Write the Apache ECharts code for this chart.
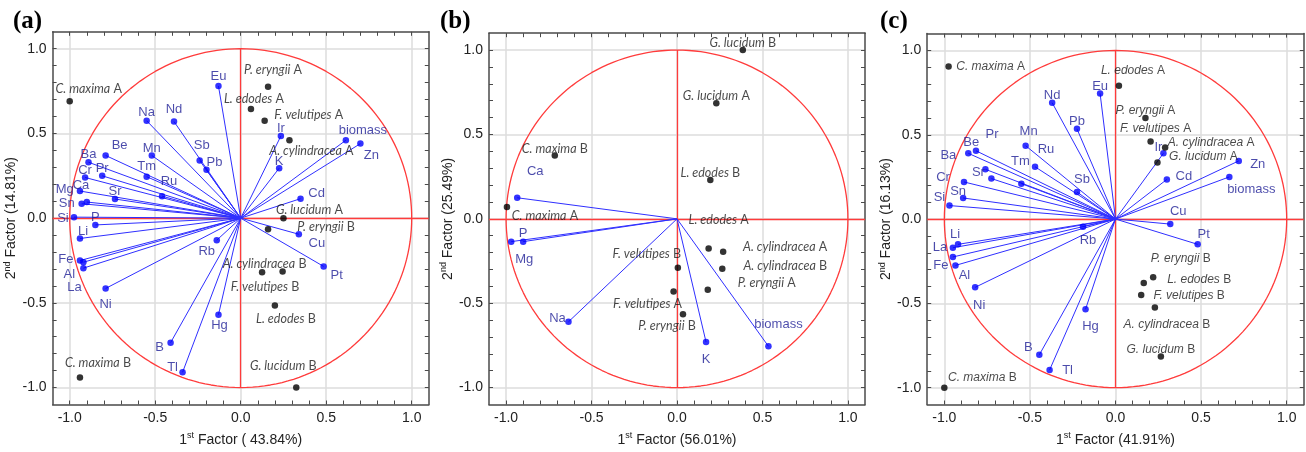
<!DOCTYPE html>
<html>
<head>
<meta charset="utf-8">
<script src="https://cdn.jsdelivr.net/npm/echarts@6/dist/echarts.min.js"></script>
<style>
  html, body { margin: 0; background: #fff; }
  #chart { width: 1306px; height: 452px; }
</style>
</head>
<body>
<div id="chart"></div>
<script>
// ---- data ----
// (a)
const aVarNames = ['Eu','Na','Nd','Be','Mn','Ba','Sb','Pb','Tm','Cr','Pr','Ru','Ca','Mg','Sn','Sr','Si','P','Li','Fe','Al','La','Ni','B','Tl','Rb','Hg','Ir','K','biomass','Zn','Cd','Cu','Pt']
const aVarX = [-0.13,-0.55,-0.39,-0.79,-0.52,-0.89,-0.24,-0.20,-0.55,-0.91,-0.81,-0.46,-0.94,-0.90,-0.93,-0.735,-0.975,-0.85,-0.94,-0.94,-0.92,-0.92,-0.79,-0.41,-0.34,-0.14,-0.13,0.235,0.225,0.615,0.70,0.35,0.34,0.485]
const aVarY = [0.78,0.575,0.57,0.37,0.37,0.33,0.34,0.285,0.245,0.24,0.25,0.13,0.16,0.095,0.085,0.113,0.006,-0.04,-0.12,-0.25,-0.26,-0.295,-0.415,-0.735,-0.91,-0.13,-0.57,0.485,0.295,0.46,0.44,0.115,-0.095,-0.285]
const aObjNames = ['C. maxima A','P. eryngii A','L. edodes A','F. velutipes A','A. cylindracea A','G. lucidum A','P. eryngii B','A. cylindracea B','F. velutipes B','L. edodes B','G. lucidum B','C. maxima B']
const aObjX = [-1.0,0.16,0.06,0.14,0.285,0.25,0.16,0.245,0.125,0.20,0.325,-0.94]
const aObjY = [0.69,0.775,0.645,0.575,0.46,0.0,-0.065,-0.315,-0.32,-0.515,-1.0,-0.94]

// (b)
const bVarNames = ['Ca','P','Mg','Na','K','biomass']
const bVarX = [-0.935,-0.90,-0.97,-0.635,0.17,0.535]
const bVarY = [0.125,-0.135,-0.135,-0.61,-0.73,-0.755]
const bObjNames = ['C. maxima B','C. maxima A','G. lucidum B','G. lucidum A','L. edodes B','L. edodes A','A. cylindracea A','A. cylindracea B','P. eryngii A','F. velutipes B','F. velutipes A','P. eryngii B']
const bObjX = [-0.715,-0.995,0.385,0.23,0.195,0.185,0.27,0.265,0.18,0.005,-0.02,0.035]
const bObjY = [0.375,0.07,1.0,0.685,0.23,-0.175,-0.195,-0.295,-0.42,-0.29,-0.43,-0.565]

// (c)
const cVarNames = ['Nd','Eu','Pb','Mn','Be','Pr','Ba','Sr','Ru','Tm','Sb','Cr','Sn','Si','Ir','Zn','biomass','Cd','Cu','Pt','Li','La','Fe','Al','Ni','Rb','Hg','B','Tl']
const cVarX = [-0.37,-0.09,-0.225,-0.525,-0.86,-0.815,-0.76,-0.725,-0.47,-0.55,-0.225,-0.885,-0.89,-0.97,0.28,0.72,0.665,0.30,0.32,0.48,-0.92,-0.95,-0.95,-0.935,-0.82,-0.19,-0.175,-0.445,-0.385]
const cVarY = [0.69,0.745,0.535,0.435,0.39,0.405,0.295,0.24,0.31,0.21,0.16,0.22,0.125,0.08,0.39,0.345,0.25,0.235,-0.03,-0.15,-0.15,-0.17,-0.225,-0.275,-0.405,-0.045,-0.535,-0.805,-0.895]
const cObjNames = ['C. maxima A','L. edodes A','P. eryngii A','F. velutipes A','A. cylindracea A','G. lucidum A','P. eryngii B','L. edodes B','F. velutipes B','A. cylindracea B','G. lucidum B','C. maxima B']
const cObjX = [-0.975,0.02,0.175,0.205,0.29,0.245,0.165,0.22,0.15,0.23,0.265,-1.0]
const cObjY = [0.905,0.79,0.60,0.46,0.425,0.335,-0.38,-0.345,-0.45,-0.525,-0.815,-1.0]

const tickValues = [-1.0, -0.5, 0.0, 0.5, 1.0]
const minorValues = [-1.0,-0.9,-0.8,-0.7,-0.6,-0.5,-0.4,-0.3,-0.2,-0.1,0,0.1,0.2,0.3,0.4,0.5,0.6,0.7,0.8,0.9,1.0]

// label placement (label centre relative to point, px)
const aVarLab = {Eu:[0,-10],Na:[0,-8],Nd:[0,-12],Be:[14,-10],Mn:[0,-7],Ba:[0,-8],Sb:[2,-15],Pb:[8,-7],Tm:[0,-10],Cr:[0,-7],Pr:[0,-7],Ru:[7,-15],Ca:[1,-6],Mg:[-22,-13],Sn:[-15,0],Sr:[0,-8],Si:[-11,1],P:[0,-8],Li:[3,-7],Fe:[-14,-1],Al:[-14,12],La:[-9,19],Ni:[0,16],B:[-11,5],Tl:[-10,-5],Rb:[-10,11],Hg:[1,11],Ir:[0,-8],K:[0,-7],biomass:[17,-10],Zn:[11,12],Cd:[16,-5],Cu:[18,9],Pt:[13,9]}
const aObjLab = [[19,-12],[5,-17],[3,-10],[44,-6],[22,11],[26,-8],[58,-2],[-18,-8],[3,15],[11,14],[-13,-22],[18,-14]]
const bVarLab = {Ca:[18,-26],P:[0,-8],Mg:[13,18],Na:[-11,-3],K:[0,17],biomass:[10,-22]}
const bObjLab = [[0,-7],[38,9],[0,-7],[0,-7],[0,-7],[10,-28],[62,-5],[63,-3],[59,-7],[-31,-14],[-26,13],[-16,12]]
const cVarLab = {Nd:[0,-7],Eu:[0,-7],Pb:[0,-7],Mn:[3,-14],Be:[3,-11],Pr:[16,-16],Ba:[-37,-14],Sr:[-13,-6],Ru:[11,-17],Tm:[-1,-22],Sb:[5,-13],Cr:[-21,-5],Sn:[-5,-7],Si:[-10,-8],Ir:[-5,-6],Zn:[19,4],biomass:[22,13],Cd:[17,-3],Cu:[8,-13],Pt:[6,-10],Li:[-3,-10],La:[-13,0],Fe:[-12,8],Al:[9,10],Ni:[4,18],Rb:[5,14],Hg:[5,17],B:[-11,-7],Tl:[18,0]}
const cObjLab = [[42,0],[14,-15],[0,-7],[5,-13],[46,-5],[46,-6],[37,-24],[46,2],[48,1],[12,17],[0,-7],[38,-10]]

const SANS = '"Liberation Sans", Arial, sans-serif'
const RED = '#ff3b3b'
const BLUE = '#0000ff'

const panels = [
  { grid: {left: 52.6, top: 31.8, width: 376.2, height: 376.2}, xName: ' 43.84%', yName: '14.81%',
    vn: aVarNames, vx: aVarX, vy: aVarY, vl: aVarLab, on: aObjNames, ox: aObjX, oy: aObjY, ol: aObjLab, objFont: 'Lato', objSize: 12.5, tag: '(a)', tagX: 13 },
  { grid: {left: 489, top: 33.2, width: 376, height: 376}, xName: '56.01%', yName: '25.49%',
    vn: bVarNames, vx: bVarX, vy: bVarY, vl: bVarLab, on: bObjNames, ox: bObjX, oy: bObjY, ol: bObjLab, objFont: 'Lato', objSize: 12.5, tag: '(b)', tagX: 440 },
  { grid: {left: 927.2, top: 33.6, width: 376.6, height: 376.6}, xName: '41.91%', yName: '16.13%',
    vn: cVarNames, vx: cVarX, vy: cVarY, vl: cVarLab, on: cObjNames, ox: cObjX, oy: cObjY, ol: cObjLab, objFont: SANS, objSize: 12, tag: '(c)', tagX: 880 }
]

// unit circle (reference shape, not data)
const circle = []
for (let k = 0; k <= 360; k += 2) {
  const t = k * Math.PI / 180
  circle.push([Math.cos(t), Math.sin(t)])
}

const nameRich = {
  n: { fontSize: 14, color: '#222', fontFamily: SANS },
  s: { fontSize: 9, color: '#222', fontFamily: SANS, padding: [0, 0, 8, 0] }
}

const xAxes = [], yAxes = [], series = [], graphics = []
panels.forEach((p, i) => {
  const frame = { show: true, onZero: false, lineStyle: { color: '#4a4a4a', width: 1.5 } }
  const noLine = { show: false, onZero: false }
  const minorTick = { show: true, inside: true, length: 4, customValues: minorValues, lineStyle: { color: '#4a4a4a', width: 1 } }
  // main axes: labels + grid lines
  xAxes.push({
    gridIndex: i, type: 'value', min: -1.1, max: 1.1, position: 'bottom',
    axisLine: frame, axisTick: { show: false, customValues: tickValues },
    axisLabel: { customValues: tickValues, formatter: v => v.toFixed(1), fontSize: 14, color: '#222', fontFamily: SANS, margin: 7 },
    splitLine: { show: true, lineStyle: { color: '#dddddd', width: 1.5 } },
    name: '{n|1}{s|st}{n| Factor (' + p.xName + ')}', nameLocation: 'middle', nameGap: 27,
    nameTextStyle: { rich: nameRich }
  })
  xAxes.push({ gridIndex: i, type: 'value', min: -1.1, max: 1.1, position: 'bottom', axisLine: noLine,
    axisTick: minorTick, axisLabel: { show: false }, splitLine: { show: false } })
  xAxes.push({ gridIndex: i, type: 'value', min: -1.1, max: 1.1, position: 'top', axisLine: frame,
    axisTick: minorTick, axisLabel: { show: false }, splitLine: { show: false } })
  yAxes.push({
    gridIndex: i, type: 'value', min: -1.1, max: 1.1, position: 'left',
    axisLine: frame, axisTick: { show: false, customValues: tickValues },
    axisLabel: { customValues: tickValues, formatter: v => v.toFixed(1), fontSize: 14, color: '#222', fontFamily: SANS, margin: 6 },
    splitLine: { show: true, lineStyle: { color: '#dddddd', width: 1.5 } },
    name: '{n|2}{s|nd}{n| Factor (' + p.yName + ')}', nameLocation: 'middle', nameGap: 31,
    nameTextStyle: { rich: nameRich }
  })
  yAxes.push({ gridIndex: i, type: 'value', min: -1.1, max: 1.1, position: 'left', axisLine: noLine,
    axisTick: minorTick, axisLabel: { show: false }, splitLine: { show: false } })
  yAxes.push({ gridIndex: i, type: 'value', min: -1.1, max: 1.1, position: 'right', axisLine: frame,
    axisTick: minorTick, axisLabel: { show: false }, splitLine: { show: false } })

  const xi = i * 3, yi = i * 3
  series.push({
    type: 'line', xAxisIndex: xi, yAxisIndex: yi, data: circle, showSymbol: false, silent: true,
    lineStyle: { color: RED, width: 1.3 }, z: 1
  })
  series.push({
    type: 'lines', coordinateSystem: 'cartesian2d', xAxisIndex: xi, yAxisIndex: yi, silent: true, z: 1,
    lineStyle: { color: RED, width: 1.3, opacity: 1 },
    data: [{ coords: [[-1.1, 0], [1.1, 0]] }, { coords: [[0, -1], [0, 1]] }]
  })
  series.push({
    type: 'lines', coordinateSystem: 'cartesian2d', xAxisIndex: xi, yAxisIndex: yi, silent: true, z: 2,
    lineStyle: { color: '#2f2fff', width: 1, opacity: 1 },
    data: p.vn.map((n, k) => ({ coords: [[0, 0], [p.vx[k], p.vy[k]]] }))
  })
  series.push({
    type: 'scatter', xAxisIndex: xi, yAxisIndex: yi, symbolSize: 6.5, z: 3,
    itemStyle: { color: BLUE },
    data: p.vn.map((n, k) => ({
      name: n, value: [p.vx[k], p.vy[k]],
      label: { offset: p.vl[n] || [0, -8] }
    })),
    label: {
      show: true, position: 'inside', formatter: '{b}', align: 'center', verticalAlign: 'middle',
      fontSize: 13, color: '#1e1e96', fontFamily: SANS
    }
  })
  series.push({
    type: 'scatter', xAxisIndex: xi, yAxisIndex: yi, symbolSize: 6.5, z: 4,
    itemStyle: { color: '#000' },
    data: p.on.map((n, k) => ({
      name: n, value: [p.ox[k], p.oy[k]],
      label: { offset: p.ol[k] }
    })),
    label: {
      show: true, position: 'inside', align: 'center', verticalAlign: 'middle',
      formatter: q => {
        const s = q.name, k = s.lastIndexOf(' ')
        return '{i|' + s.slice(0, k) + '}{r|' + s.slice(k) + '}'
      },
      rich: {
        i: { fontStyle: 'italic', fontSize: p.objSize, color: '#1a1a1a', fontFamily: p.objFont },
        r: { fontSize: p.objSize, color: '#1a1a1a', fontFamily: p.objFont }
      }
    }
  })
  graphics.push({
    type: 'text', left: p.tagX, top: 9,
    style: { text: p.tag, font: 'bold 25px "Liberation Serif", "DejaVu Serif", serif', fill: '#000' }
  })
})

const chart = echarts.init(document.getElementById('chart'))
chart.setOption({
  animation: false,
  backgroundColor: '#fff',
  grid: panels.map(p => Object.assign({ show: false }, p.grid)),
  xAxis: xAxes,
  yAxis: yAxes,
  series: series,
  graphic: graphics
})
</script>
</body>
</html>
